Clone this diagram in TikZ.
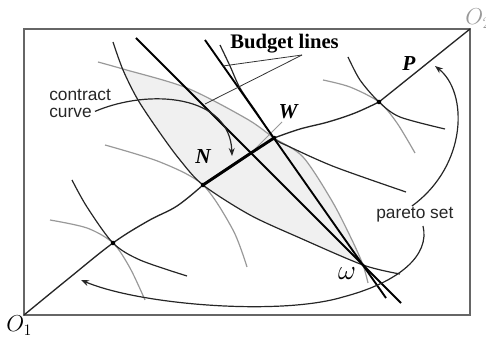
\documentclass[tikz,border=0pt]{standalone}
\usepackage{fontspec}
\setmainfont{Liberation Serif}
\newfontfamily\sanslab{Liberation Sans}
\usetikzlibrary{arrows.meta,calc}
\begin{document}
\begin{tikzpicture}[x=0.75pt,y=-0.75pt,
  icone/.style={draw=black!85,line width=0.9pt},
  ictwo/.style={draw=black!40,line width=0.9pt},
  budgetln/.style={draw=black,line width=1.4pt},
  contractln/.style={draw=black!85,line width=1pt},
  coreln/.style={draw=black,line width=2.2pt},
  leaderln/.style={draw=black!80,line width=0.6pt},
  thingray/.style={draw=black!40,line width=0.7pt},
  arrowln/.style={draw=black!85,line width=0.9pt,-{Stealth[length=6pt,width=4.5pt]}},
  boxln/.style={draw=black!60,line width=1.4pt},
  lensfill/.style={fill=black!6},
  dotpt/.style={circle,fill=black,inner sep=0pt,minimum size=3.4pt},
  sanslbl/.style={font=\sanslab\fontsize{13}{14}\selectfont,inner sep=0pt,text=black!85},
  ptlbl/.style={font=\fontsize{16}{18}\selectfont\bfseries\itshape,inner sep=0pt},
]
\useasboundingbox (0,0) rectangle (486,338);

% key points
\coordinate (O1) at (24,315);
\coordinate (O2) at (470,29);
\coordinate (A) at (113,243);
\coordinate (N) at (203,185);
\coordinate (X) at (251,153);
\coordinate (W) at (274,138);
\coordinate (P) at (379,102);
\coordinate (om) at (363,265);
\coordinate (B1s) at (136,38);
\coordinate (B1e) at (401,303);
\coordinate (B2s) at (205,40);
\coordinate (B2e) at (386,298);

% lens shading
\begin{scope}
  \clip plot[smooth] coordinates {(113,42) (123,70) (138,100) (160,133) (180,160) (N) (250,215) (300,238) (om) (400,274)} -- (486,274) -- (486,0) -- (113,0) -- cycle;
  \fill[lensfill] plot[smooth] coordinates {(98,62) (123,69) (187,88) (247,119) (W) (303,157) (332,201) (352,240) (om) (368,283)} -- (368,338) -- (0,338) -- (0,62) -- cycle;
\end{scope}

% box
\draw[boxln] (O1) rectangle (O2);

% consumer 2 indifference curves (gray)
\draw[ictwo] plot[smooth] coordinates {(50,220) (87,228) (A) (130,268) (145,300)};
\draw[ictwo] plot[smooth] coordinates {(105,145) (160,162) (N) (233,230) (247,267)};
\draw[ictwo] plot[smooth] coordinates {(98,62) (123,69) (187,88) (247,119) (W) (303,157) (332,201) (352,240) (om) (368,283)};
\draw[ictwo] plot[smooth] coordinates {(323,80) (350,87) (P) (397,123) (415,153)};
\draw[thingray] (X) -- (282,122);

% consumer 1 indifference curves (dark)
\draw[icone] plot[smooth] coordinates {(72,180) (87,207) (A) (140,260) (187,276)};
\draw[icone] plot[smooth] coordinates {(113,42) (123,70) (138,100) (160,133) (180,160) (N) (250,215) (300,238) (om) (400,274)};
\draw[icone] plot[smooth] coordinates {(220,45) (230,66) (240,88) (257,113) (W) (290,147) (335,167) (406,192)};
\draw[icone] plot[smooth] coordinates {(348,57) (360,80) (P) (400,117) (445,129)};

% budget lines
\draw[budgetln] (B1s) -- (B1e);
\draw[budgetln] (B2s) -- (B2e);

% contract curve
\draw[contractln] plot[smooth,tension=0.6] coordinates {(O1) (68,279) (A) (148,221) (177,206) (N)};
\draw[coreln] (N) -- (X) -- (W);
\draw[contractln] plot[smooth,tension=0.6] coordinates {(W) (300,129) (328,122) (355,113) (P)} -- (O2);

% dots
\node[dotpt] (dA) at (A) {};
\node[dotpt] (dN) at (N) {};
\node[dotpt] (dW) at (W) {};
\node[dotpt] (dP) at (P) {};
\node[dotpt,minimum size=2.5pt] (dom) at (om) {};

% labels
\node[anchor=base west,inner sep=0pt,font=\fontsize{15.5}{17}\selectfont\bfseries] (bl) at (230,49) {Budget lines};
\coordinate (blf) at (302,55);
\coordinate (bl1) at (205,104);
\coordinate (bl2) at (223,66);
\draw[leaderln] (blf) -- (bl2);
\draw[leaderln] (blf) -- (bl1);

\node[sanslbl,anchor=base west] (cc1) at (49,101) {contract};
\node[sanslbl,anchor=base west] (cc2) at (49,118) {curve};
\coordinate (cctip) at (232,156);
\draw[arrowln] ($(cc2.east)+(3,-2)$) .. controls (150,88) and (230,95) .. (cctip);

\node[sanslbl,anchor=base west] (pareto) at (376,219) {pareto set};
\coordinate (ptipP) at (435,66);
\coordinate (ptipO) at (81,280);
\draw[arrowln] (412,206) .. controls (468,165) and (468,92) .. (ptipP);
\draw[arrowln] (423,226) .. controls (430,255) and (400,282) .. (343,297) .. controls (280,316) and (140,305) .. (ptipO);

\node[ptlbl] (lN) at (203,157) {N};
\node[ptlbl] (lW) at (288,112) {W};
\node[ptlbl] (lP) at (409,64) {P};
\node[inner sep=0pt,font=\fontsize{22}{24}\selectfont] (lom) at (347,274) {$\omega$};
\node[anchor=base west,inner sep=0pt,font=\fontsize{17}{18}\selectfont] (lO1) at (6,332) {$O_1$};
\node[anchor=base west,inner sep=0pt,font=\fontsize{17}{18}\selectfont,text=black!40] (lO2) at (465,25) {$O_2$};
\end{tikzpicture}
\end{document}
